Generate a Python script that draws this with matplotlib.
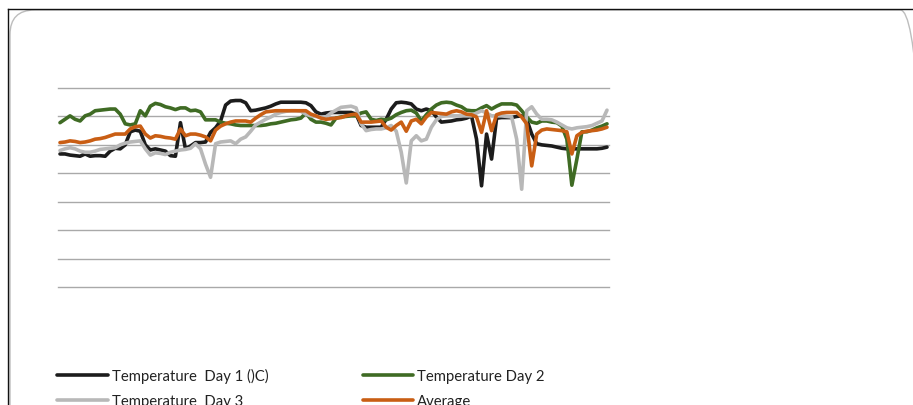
import numpy as np
import matplotlib
matplotlib.use("Agg")
import matplotlib.pyplot as plt
from matplotlib.lines import Line2D
from matplotlib.patches import FancyBboxPatch

# Readings (°C), one per sample
day1 = [23.4, 23.4, 23.2, 23.1, 23.0, 23.4, 23.0, 23.1, 23.1, 23.0,
        23.9, 24.4, 24.3, 25.0, 27.3, 27.6, 27.4, 25.0, 24.1, 24.3,
        24.1, 23.9, 23.1, 23.0, 28.9, 24.3, 24.8, 25.4, 25.4, 25.5,
        27.2, 28.0, 29.2, 32.0, 32.7, 32.8, 32.8, 32.4, 31.0, 31.1,
        31.3, 31.5, 31.8, 32.2, 32.5, 32.5, 32.5, 32.5, 32.5, 32.4,
        31.9, 30.8, 30.4, 30.6, 30.7, 30.7, 30.7, 30.7, 30.7, 30.4,
        28.4, 28.1, 28.1, 28.1, 28.1, 29.5, 31.3, 32.4, 32.5, 32.4,
        32.2, 31.3, 31.0, 31.3, 31.0, 29.9, 29.0, 29.1, 29.2, 29.4,
        29.5, 29.7, 30.1, 26.0, 17.8, 26.9, 22.5, 29.7, 29.8, 29.8,
        29.8, 30.0, 30.1, 29.5, 26.9, 25.2, 25.0, 24.9, 24.8, 24.6,
        24.4, 24.3, 24.3, 24.3, 24.3, 24.3, 24.3, 24.3, 24.4, 24.6]

day2 = [28.9, 29.5, 30.1, 29.5, 29.2, 30.1, 30.4, 31.0, 31.1, 31.2,
        31.3, 31.3, 30.4, 28.7, 28.5, 28.7, 31.0, 30.1, 31.8, 32.3,
        32.1, 31.7, 31.5, 31.2, 31.5, 31.5, 31.0, 31.1, 30.8, 29.4,
        29.4, 29.4, 29.0, 28.8, 28.7, 28.5, 28.4, 28.4, 28.4, 28.4,
        28.4, 28.5, 28.7, 28.8, 29.0, 29.2, 29.4, 29.5, 29.7, 30.6,
        29.5, 29.0, 29.0, 28.8, 28.5, 29.7, 29.9, 30.0, 30.1, 30.1,
        30.6, 30.8, 29.5, 29.3, 29.5, 29.4, 29.7, 30.3, 30.7, 31.0,
        31.1, 30.6, 29.2, 30.3, 31.3, 32.0, 32.4, 32.5, 32.4, 32.0,
        31.7, 31.1, 31.0, 31.0, 31.5, 31.9, 31.3, 31.8, 32.2, 32.2,
        32.2, 32.0, 31.0, 29.9, 29.0, 28.8, 29.2, 29.2, 29.0, 28.9,
        28.3, 26.0, 17.9, 22.5, 27.3, 27.3, 27.6, 28.0, 28.3, 28.7]

day3 = [24.0, 24.3, 24.5, 24.3, 23.9, 23.7, 23.7, 23.9, 24.2, 24.3,
        24.4, 24.5, 25.0, 25.3, 25.5, 25.6, 25.7, 24.3, 23.2, 23.6,
        23.5, 23.3, 23.7, 23.9, 24.1, 24.2, 24.4, 25.2, 24.3, 21.6,
        19.3, 25.2, 25.5, 25.6, 25.7, 25.2, 26.0, 26.4, 27.4, 28.5,
        29.0, 29.5, 29.9, 30.4, 30.7, 30.9, 31.0, 31.0, 30.9, 30.4,
        30.1, 30.0, 29.9, 29.9, 30.6, 31.1, 31.6, 31.7, 31.8, 31.5,
        28.7, 27.5, 27.7, 27.8, 27.8, 28.0, 28.4, 27.4, 23.7, 18.3,
        25.7, 26.6, 25.7, 26.0, 28.1, 29.4, 30.0, 30.1, 30.1, 30.1,
        30.1, 30.1, 30.1, 30.6, 31.0, 30.6, 30.1, 30.1, 30.1, 30.0,
        29.9, 26.0, 17.2, 31.0, 31.7, 30.4, 29.5, 29.5, 29.4, 29.0,
        28.5, 28.0, 27.8, 28.0, 28.1, 28.2, 28.4, 28.8, 29.2, 31.1]

average = [25.4, 25.5, 25.7, 25.6, 25.4, 25.5, 25.7, 26.0, 26.1, 26.3,
           26.6, 26.9, 26.9, 26.9, 27.8, 28.2, 28.3, 26.9, 26.2, 26.6,
           26.5, 26.3, 26.2, 26.0, 27.8, 26.6, 26.9, 26.9, 26.7, 26.4,
           25.7, 27.6, 28.3, 28.7, 29.0, 29.2, 29.2, 29.2, 29.0, 29.7,
           30.3, 30.8, 30.9, 31.0, 31.0, 31.0, 31.0, 31.0, 31.0, 31.0,
           30.4, 30.1, 29.7, 29.5, 29.6, 29.7, 29.8, 30.1, 30.3, 30.4,
           29.0, 29.0, 29.0, 29.1, 29.2, 28.1, 27.6, 28.4, 29.0, 27.4,
           29.2, 29.5, 28.7, 29.9, 30.7, 30.6, 30.5, 30.4, 30.8, 31.0,
           30.8, 30.4, 30.3, 29.9, 27.2, 31.0, 27.5, 30.3, 30.6, 30.7,
           30.7, 30.7, 29.9, 28.7, 21.3, 26.9, 27.6, 27.8, 27.7, 27.6,
           27.5, 27.3, 23.4, 26.6, 27.2, 27.4, 27.5, 27.6, 27.8, 28.1]

series_labels = ["Temperature  Day 1 ()C)", "Temperature Day 2",
                 "Temperature  Day 3", "Average"]
series_colors = ["#1c1c1c", "#3f6b24", "#b8b8b8", "#c95e14"]
grid_values = [0, 5, 10, 15, 20, 25, 30, 35]

W, H = 913, 406
fig = plt.figure(figsize=(W / 100, H / 100), dpi=100)
fig.patch.set_facecolor("white")

# outer frame: black top/left edges and a rounded grey chart-area border
fig.add_artist(Line2D([8 / W, 1.0], [1 - 10 / H, 1 - 10 / H],
                      transform=fig.transFigure, color="#111111", lw=1.0))
fig.add_artist(Line2D([8 / W, 8 / W], [0, 1 - 10 / H],
                      transform=fig.transFigure, color="#111111", lw=1.0))
box = FancyBboxPatch((10 / W, -40 / H), (925 - 10) / W, (395 + 40) / H,
                     boxstyle="round,pad=0,rounding_size=0.027",
                     transform=fig.transFigure, facecolor="none",
                     edgecolor="#bdbdbd", lw=1.0, mutation_aspect=W / H)
fig.add_artist(box)

ax = fig.add_axes([58 / W, (H - 288) / H, (609 - 58) / W, (288 - 89) / H])
ax.set_facecolor("none")
for s in ax.spines.values():
    s.set_visible(False)
ax.set_xticks([])
ax.set_yticks([])

for g in grid_values:
    ax.axhline(g, color="#a9a9a9", lw=1.0, clip_on=False, zorder=1)

n = len(day1)
x = np.arange(n)
handles = []
for data, lab, col in zip([day1, day2, day3, average], series_labels, series_colors):
    h, = ax.plot(x[:len(data)], data, color=col, lw=2.6, label=lab,
                 solid_joinstyle="round", solid_capstyle="round", zorder=3)
    handles.append(h)

ax.set_xlim(-0.4, n - 1 + 0.4)
ax.set_ylim(0, 35)

order = [0, 2, 1, 3]
leg = fig.legend([handles[i] for i in order], [series_labels[i] for i in order],
                 ncol=2, loc="upper left", bbox_to_anchor=(57 / W, 1 - 369 / H),
                 frameon=False, fontsize=10.7, handlelength=3.4,
                 handletextpad=0.27, columnspacing=6.37, labelspacing=0.72,
                 borderaxespad=0, borderpad=0)
for t in leg.get_texts():
    t.set_family(["Lato", "DejaVu Sans"])
    t.set_color("#222222")

fig.savefig("out.png", dpi=100, facecolor="white")
